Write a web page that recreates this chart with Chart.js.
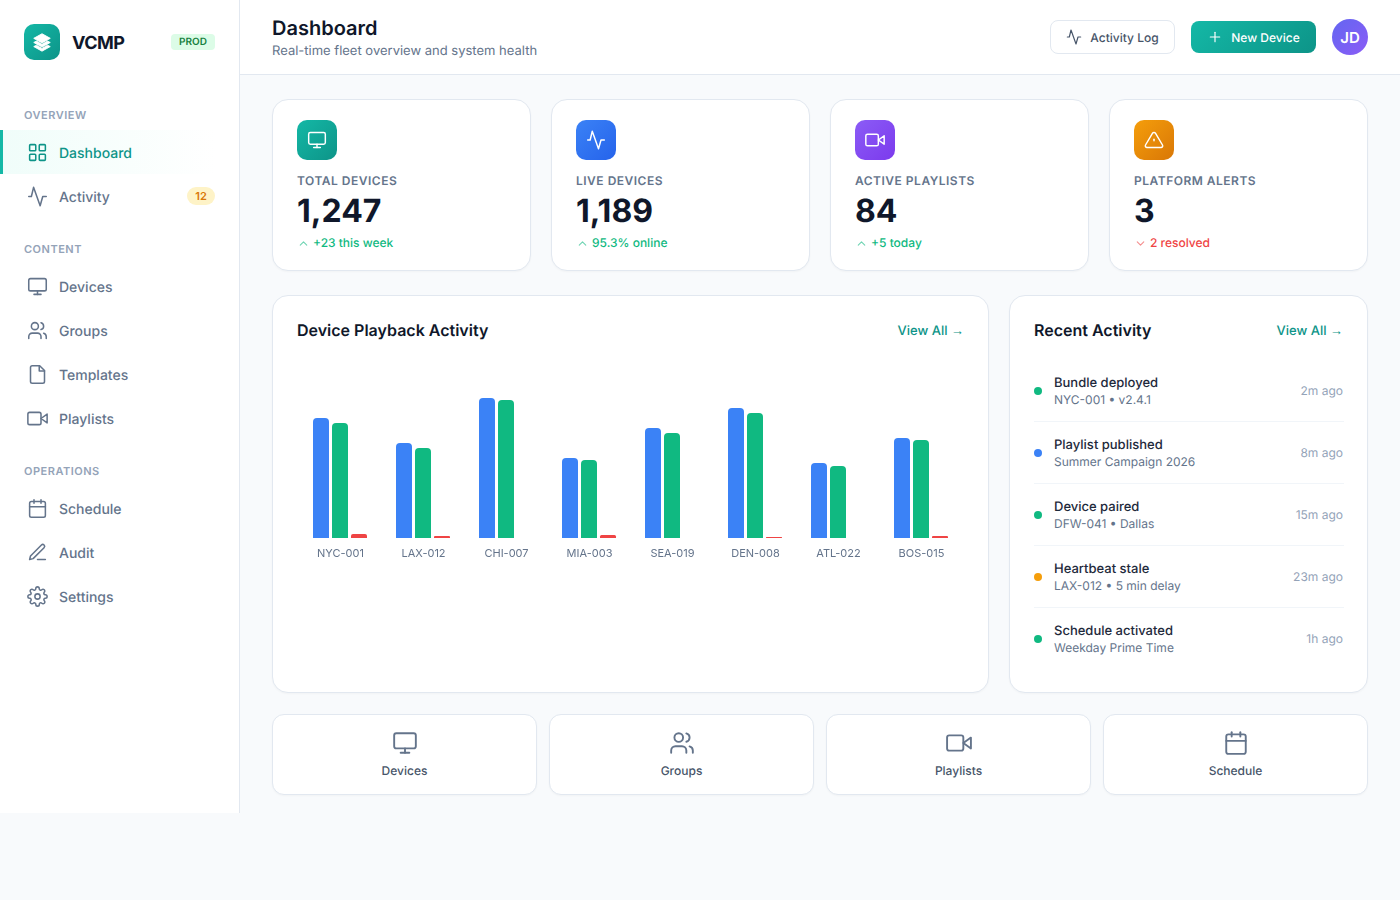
<!DOCTYPE html>
<html lang="en">

<head>
    <meta charset="UTF-8">
    <title>VCMP Dashboard</title>
    <script src="https://cdn.jsdelivr.net/npm/chart.js"></script>
    <style>
        * { box-sizing: border-box; margin: 0; padding: 0; }

        body {
            width: 1400px;
            height: 900px;
            overflow: hidden;
            position: relative;
            background: #f8fafc;
            font-family: Inter, sans-serif;
            color: #0f172a;
            text-rendering: geometricPrecision;
        }

        svg.ic {
            fill: none;
            stroke: currentColor;
            stroke-width: 1.75;
            stroke-linecap: round;
            stroke-linejoin: round;
            flex: none;
        }

        /* sidebar */
        .sidebar {
            position: absolute; left: 0; top: 0;
            width: 240px; height: 813px;
            background: #fff;
            border-right: 1px solid #e2e8f0;
        }
        .logo {
            position: absolute; left: 24px; top: 24px;
            width: 36px; height: 36px;
            border-radius: 10px;
            background: linear-gradient(135deg, #14b8a6, #0d9488);
            color: #fff;
            display: flex; align-items: center; justify-content: center;
        }
        .brand {
            position: absolute; left: 72px; top: 33px;
            font-size: 18px; line-height: 22px; font-weight: 700;
            letter-spacing: -0.5px; color: #0f172a;
        }
        .prod {
            position: absolute; left: 171px; top: 34px;
            width: 44px; height: 16px;
            border-radius: 4px;
            background: #dcfce7; color: #15803d;
            font-size: 10px; line-height: 17px; font-weight: 600;
            text-align: center;
        }
        .section {
            position: absolute; left: 24px;
            font-size: 11px; line-height: 14px; font-weight: 600;
            letter-spacing: 0.5px; color: #94a3b8;
        }
        .nav {
            position: absolute; left: 0; width: 216px; height: 44px;
            display: flex; align-items: center;
            padding-left: 26.5px;
            color: #64748b;
            font-size: 14px; font-weight: 500;
        }
        .nav span.t { margin-left: 11.5px; position: relative; top: 1px; }
        .nav.active {
            color: #0d9488;
            background: linear-gradient(90deg, #f0fdfa, rgba(240, 253, 250, 0));
            border-left: 3px solid #14b8a6;
            padding-left: 23.5px;
        }
        .count {
            position: absolute; left: 187px; top: 13px;
            width: 28px; height: 18px;
            border-radius: 9px;
            background: #fef3c7; color: #d97706;
            font-size: 11px; line-height: 18px; font-weight: 600;
            text-align: center;
        }

        /* header */
        .header {
            position: absolute; left: 240px; top: 0;
            width: 1160px; height: 75px;
            background: #fff;
            border-bottom: 1px solid #e2e8f0;
        }
        .header h1 {
            position: absolute; left: 32px; top: 15px;
            font-size: 20px; line-height: 26px; font-weight: 600;
            color: #0f172a;
        }
        .header p {
            position: absolute; left: 32px; top: 43px;
            font-size: 13px; line-height: 17px; color: #64748b;
        }
        .btn {
            position: absolute;
            display: flex; align-items: center; justify-content: center;
            font-size: 12px; font-weight: 500;
            border-radius: 8px;
        }
        .btn.log {
            left: 810px; top: 20px; width: 125px; height: 34px;
            background: #fff; border: 1px solid #e2e8f0; color: #475569;
        }
        .btn.new {
            left: 951px; top: 21px; width: 125px; height: 32px;
            background: linear-gradient(135deg, #14b8a6, #0d9488); color: #fff;
        }
        .btn svg { margin-right: 8px; }
        .avatar {
            position: absolute; left: 1092px; top: 19px;
            width: 36px; height: 36px; border-radius: 50%;
            background: linear-gradient(135deg, #6366f1, #8b5cf6);
            color: #fff; font-size: 15px; font-weight: 600;
            line-height: 38px; text-align: center;
        }

        /* cards */
        .card {
            position: absolute;
            background: #fff;
            border: 1px solid #e2e8f0;
            border-radius: 16px;
            box-shadow: 0 1px 2px rgba(15, 23, 42, 0.03);
        }
        .stat { top: 99px; width: 259px; height: 172px; }
        .stat .icon {
            position: absolute; left: 24px; top: 20px;
            width: 40px; height: 40px; border-radius: 10px;
            color: #fff;
            display: flex; align-items: center; justify-content: center;
        }
        .stat .label {
            position: absolute; left: 24px; top: 73px;
            font-size: 12px; line-height: 16px; font-weight: 600;
            letter-spacing: 0.5px; color: #64748b;
        }
        .stat .value {
            position: absolute; left: 24px; top: 89px;
            font-size: 32px; line-height: 44px; font-weight: 700;
            color: #0f172a;
        }
        .stat .delta {
            position: absolute; left: 23.5px; top: 135px;
            display: flex; align-items: center;
            font-size: 12px; line-height: 16px; font-weight: 500;
        }
        .stat .delta svg { margin-right: 3.5px; opacity: 0.6; stroke-width: 2; }
        .up { color: #10b981; }
        .down { color: #ef4444; }

        .panel-title {
            position: absolute; left: 24px; top: 23px;
            font-size: 16px; line-height: 22px; font-weight: 600; color: #0f172a;
        }
        .view-all {
            position: absolute; right: 24px; top: 26px;
            font-size: 13px; line-height: 18px; font-weight: 500; color: #0d9488;
        }
        .view-all span { font-family: "Liberation Sans", sans-serif; font-weight: 400; }
        .chart-wrap {
            position: absolute; left: 25px; top: 65px;
            width: 665px; height: 310px;
        }

        .row {
            position: absolute; left: 24px; width: 310px; height: 62px;
            border-bottom: 1px solid #f1f5f9;
        }
        .row:last-child { border-bottom: none; }
        .row .dot {
            position: absolute; left: 0; top: 27px;
            width: 8px; height: 8px; border-radius: 50%;
        }
        .row .title {
            position: absolute; left: 20px; top: 14px;
            font-size: 13px; line-height: 18px; font-weight: 500; color: #1e293b;
        }
        .row .sub {
            position: absolute; left: 20px; top: 32px;
            font-size: 12px; line-height: 16px; color: #64748b;
        }
        .row .time {
            position: absolute; right: 1px; top: 23px;
            font-size: 12px; line-height: 16px; color: #94a3b8;
        }

        .quick {
            top: 714px; width: 265px; height: 81px;
            border-radius: 12px;
            color: #64748b;
        }
        .quick svg { position: absolute; left: 119px; top: 15px; }
        .quick div {
            position: absolute; left: 0; right: 0; top: 48px;
            text-align: center;
            font-size: 12px; line-height: 16px; font-weight: 500; color: #475569;
        }
    </style>
</head>

<body>
    <svg width="0" height="0" style="position:absolute">
        <symbol id="i-grid" viewBox="0 0 24 24"><rect x="3" y="3" width="7" height="7" rx="1"/><rect x="14" y="3" width="7" height="7" rx="1"/><rect x="14" y="14" width="7" height="7" rx="1"/><rect x="3" y="14" width="7" height="7" rx="1"/></symbol>
        <symbol id="i-activity" viewBox="0 0 24 24"><polyline points="2 12 5 12 7.5 1.5 15 22.5 18 12 22 12"/></symbol>
        <symbol id="i-monitor" viewBox="0 0 24 24"><rect x="2" y="3" width="20" height="14" rx="2"/><line x1="8" y1="21" x2="16" y2="21"/><line x1="12" y1="17" x2="12" y2="21"/></symbol>
        <symbol id="i-users" viewBox="0 0 24 24"><path d="M16 21v-2a4 4 0 0 0-4-4H6a4 4 0 0 0-4 4v2"/><circle cx="9" cy="7" r="4"/><path d="M22 21v-2a4 4 0 0 0-3-3.87"/><path d="M16 3.13a4 4 0 0 1 0 7.75"/></symbol>
        <symbol id="i-file" viewBox="0 0 24 24"><path d="M14.5 2H6a2 2 0 0 0-2 2v16a2 2 0 0 0 2 2h12a2 2 0 0 0 2-2V7.5L14.5 2z"/><polyline points="14 2 14 8 20 8"/></symbol>
        <symbol id="i-video" viewBox="0 0 24 24"><polygon points="23 7 16 12 23 17 23 7"/><rect x="1" y="5" width="15" height="14" rx="2"/></symbol>
        <symbol id="i-calendar" viewBox="0 0 24 24"><rect x="3" y="4" width="18" height="18" rx="2"/><line x1="16" y1="2" x2="16" y2="6"/><line x1="8" y1="2" x2="8" y2="6"/><line x1="3" y1="10" x2="21" y2="10"/></symbol>
        <symbol id="i-pen" viewBox="0 0 24 24"><path d="M12 20h9"/><path d="M16.5 3.5a2.12 2.12 0 0 1 3 3L7 19l-4 1 1-4Z"/></symbol>
        <symbol id="i-gear" viewBox="0 0 24 24"><circle cx="12" cy="12" r="3"/><path d="M19.4 15a1.65 1.65 0 0 0 .33 1.82l.06.06a2 2 0 0 1 0 2.83 2 2 0 0 1-2.83 0l-.06-.06a1.65 1.65 0 0 0-1.82-.33 1.65 1.65 0 0 0-1 1.51V21a2 2 0 0 1-2 2 2 2 0 0 1-2-2v-.09A1.65 1.65 0 0 0 9 19.4a1.65 1.65 0 0 0-1.82.33l-.06.06a2 2 0 0 1-2.83 0 2 2 0 0 1 0-2.83l.06-.06a1.65 1.65 0 0 0 .33-1.82 1.65 1.65 0 0 0-1.51-1H3a2 2 0 0 1-2-2 2 2 0 0 1 2-2h.09A1.65 1.65 0 0 0 4.6 9a1.65 1.65 0 0 0-.33-1.82l-.06-.06a2 2 0 0 1 0-2.83 2 2 0 0 1 2.83 0l.06.06a1.65 1.65 0 0 0 1.82.33H9a1.65 1.65 0 0 0 1-1.51V3a2 2 0 0 1 2-2 2 2 0 0 1 2 2v.09a1.65 1.65 0 0 0 1 1.51 1.65 1.65 0 0 0 1.82-.33l.06-.06a2 2 0 0 1 2.83 0 2 2 0 0 1 0 2.83l-.06.06a1.65 1.65 0 0 0-.33 1.82V9a1.65 1.65 0 0 0 1.51 1H21a2 2 0 0 1 2 2 2 2 0 0 1-2 2h-.09a1.65 1.65 0 0 0-1.51 1z"/></symbol>
        <symbol id="i-alert" viewBox="0 0 24 24"><path d="M10.29 3.86L1.82 18a2 2 0 0 0 1.71 3h16.94a2 2 0 0 0 1.71-3L13.71 3.86a2 2 0 0 0-3.42 0z"/><line x1="12" y1="11" x2="12" y2="13"/></symbol>
        <symbol id="i-plus" viewBox="0 0 24 24"><line x1="12" y1="5" x2="12" y2="19"/><line x1="5" y1="12" x2="19" y2="12"/></symbol>
        <symbol id="i-up" viewBox="0 0 24 24"><polyline points="18 15 12 9 6 15"/></symbol>
        <symbol id="i-down" viewBox="0 0 24 24"><polyline points="6 9 12 15 18 9"/></symbol>
    </svg>

    <aside class="sidebar">
        <div class="logo">
            <svg width="22" height="22" viewBox="0 0 24 24" fill="#fff" stroke="#fff" stroke-width="1" stroke-linejoin="round">
                <polygon points="12 3 3 8 12 13 21 8"/>
                <polygon points="3 12.5 6 11 12 14.5 18 11 21 12.5 12 17.5"/>
                <polygon points="3 17 6 15.5 12 19 18 15.5 21 17 12 22"/>
            </svg>
        </div>
        <div class="brand">VCMP</div>
        <div class="prod">PROD</div>

        <div class="section" style="top:108px">OVERVIEW</div>
        <div class="nav active" style="top:130px"><svg class="ic" width="21" height="21"><use href="#i-grid"/></svg><span class="t">Dashboard</span></div>
        <div class="nav" style="top:174px"><svg class="ic" width="21" height="21"><use href="#i-activity"/></svg><span class="t">Activity</span><span class="count">12</span></div>

        <div class="section" style="top:242px">CONTENT</div>
        <div class="nav" style="top:264px"><svg class="ic" width="21" height="21"><use href="#i-monitor"/></svg><span class="t">Devices</span></div>
        <div class="nav" style="top:308px"><svg class="ic" width="21" height="21"><use href="#i-users"/></svg><span class="t">Groups</span></div>
        <div class="nav" style="top:352px"><svg class="ic" width="21" height="21"><use href="#i-file"/></svg><span class="t">Templates</span></div>
        <div class="nav" style="top:396px"><svg class="ic" width="21" height="21"><use href="#i-video"/></svg><span class="t">Playlists</span></div>

        <div class="section" style="top:464px">OPERATIONS</div>
        <div class="nav" style="top:486px"><svg class="ic" width="21" height="21"><use href="#i-calendar"/></svg><span class="t">Schedule</span></div>
        <div class="nav" style="top:530px"><svg class="ic" width="21" height="21"><use href="#i-pen"/></svg><span class="t">Audit</span></div>
        <div class="nav" style="top:574px"><svg class="ic" width="21" height="21"><use href="#i-gear"/></svg><span class="t">Settings</span></div>
    </aside>

    <header class="header">
        <h1>Dashboard</h1>
        <p>Real-time fleet overview and system health</p>
        <div class="btn log"><svg class="ic" width="16" height="16"><use href="#i-activity"/></svg>Activity Log</div>
        <div class="btn new"><svg class="ic" width="16" height="16"><use href="#i-plus"/></svg>New Device</div>
        <div class="avatar">JD</div>
    </header>

    <div class="card stat" style="left:272px">
        <div class="icon" style="background:linear-gradient(135deg,#14b8a6,#0d9488)"><svg class="ic" width="20" height="20"><use href="#i-monitor"/></svg></div>
        <div class="label">TOTAL DEVICES</div>
        <div class="value">1,247</div>
        <div class="delta up"><svg class="ic" width="13" height="13"><use href="#i-up"/></svg>+23 this week</div>
    </div>
    <div class="card stat" style="left:551px">
        <div class="icon" style="background:linear-gradient(135deg,#3b82f6,#2563eb)"><svg class="ic" width="20" height="20"><use href="#i-activity"/></svg></div>
        <div class="label">LIVE DEVICES</div>
        <div class="value">1,189</div>
        <div class="delta up"><svg class="ic" width="13" height="13"><use href="#i-up"/></svg>95.3% online</div>
    </div>
    <div class="card stat" style="left:830px">
        <div class="icon" style="background:linear-gradient(135deg,#8b5cf6,#7c3aed)"><svg class="ic" width="20" height="20"><use href="#i-video"/></svg></div>
        <div class="label">ACTIVE PLAYLISTS</div>
        <div class="value">84</div>
        <div class="delta up"><svg class="ic" width="13" height="13"><use href="#i-up"/></svg>+5 today</div>
    </div>
    <div class="card stat" style="left:1109px">
        <div class="icon" style="background:linear-gradient(135deg,#f59e0b,#d97706)"><svg class="ic" width="20" height="20"><use href="#i-alert"/></svg></div>
        <div class="label">PLATFORM ALERTS</div>
        <div class="value">3</div>
        <div class="delta down"><svg class="ic" width="13" height="13"><use href="#i-down"/></svg>2 resolved</div>
    </div>

    <div class="card" style="left:272px;top:295px;width:717px;height:398px">
        <div class="panel-title">Device Playback Activity</div>
        <div class="view-all">View All <span>→</span></div>
        <div class="chart-wrap"><canvas id="playbackChart"></canvas></div>
    </div>

    <div class="card" style="left:1009px;top:295px;width:359px;height:398px">
        <div class="panel-title">Recent Activity</div>
        <div class="view-all">View All <span>→</span></div>
        <div class="row" style="top:64px"><div class="dot" style="background:#10b981"></div><div class="title">Bundle deployed</div><div class="sub">NYC-001 • v2.4.1</div><div class="time">2m ago</div></div>
        <div class="row" style="top:126px"><div class="dot" style="background:#3b82f6"></div><div class="title">Playlist published</div><div class="sub">Summer Campaign 2026</div><div class="time">8m ago</div></div>
        <div class="row" style="top:188px"><div class="dot" style="background:#10b981"></div><div class="title">Device paired</div><div class="sub">DFW-041 • Dallas</div><div class="time">15m ago</div></div>
        <div class="row" style="top:250px"><div class="dot" style="background:#f59e0b"></div><div class="title">Heartbeat stale</div><div class="sub">LAX-012 • 5 min delay</div><div class="time">23m ago</div></div>
        <div class="row" style="top:312px"><div class="dot" style="background:#10b981"></div><div class="title">Schedule activated</div><div class="sub">Weekday Prime Time</div><div class="time">1h ago</div></div>
    </div>

    <div class="card quick" style="left:272px"><svg class="ic" width="26" height="26"><use href="#i-monitor"/></svg><div>Devices</div></div>
    <div class="card quick" style="left:549px"><svg class="ic" width="26" height="26"><use href="#i-users"/></svg><div>Groups</div></div>
    <div class="card quick" style="left:826px"><svg class="ic" width="26" height="26"><use href="#i-video"/></svg><div>Playlists</div></div>
    <div class="card quick" style="left:1103px"><svg class="ic" width="26" height="26"><use href="#i-calendar"/></svg><div>Schedule</div></div>

    <script>
        const deviceLabels = ['NYC-001', 'LAX-012', 'CHI-007', 'MIA-003', 'SEA-019', 'DEN-008', 'ATL-022', 'BOS-015'];
        const scheduledPlays = [120, 95, 140, 80, 110, 130, 75, 100];
        const completedPlays = [115, 90, 138, 78, 105, 125, 72, 98];
        const failedPlays = [4, 2, 0, 3, 0, 1, 0, 2];

        const barStyle = {
            borderRadius: { topLeft: 4, topRight: 4 },
            borderSkipped: 'bottom',
            categoryPercentage: 57 / 83, // 19px slot per bar
            barPercentage: 16 / 19 // 16px bar, 3px gap
        };

        new Chart(document.getElementById('playbackChart'), {
            type: 'bar',
            data: {
                labels: deviceLabels,
                datasets: [
                    { label: 'Scheduled', data: scheduledPlays, backgroundColor: '#3b82f6', ...barStyle },
                    { label: 'Completed', data: completedPlays, backgroundColor: '#10b981', ...barStyle },
                    { label: 'Failed', data: failedPlays, backgroundColor: '#ef4444', ...barStyle }
                ]
            },
            options: {
                responsive: true,
                maintainAspectRatio: false,
                animation: false,
                layout: { padding: { left: 0.5, right: 0.5 } },
                plugins: { legend: { display: false }, tooltip: { enabled: false } },
                scales: {
                    x: {
                        grid: { display: false, drawTicks: false },
                        border: { display: false },
                        ticks: {
                            color: '#64748b',
                            font: { family: 'Inter', size: 11 },
                            padding: 9,
                            labelOffset: 0.5,
                            maxRotation: 0,
                            autoSkip: false
                        },
                        afterFit: scale => { scale.height = 133; } // room under the bars, as in the card
                    },
                    y: {
                        display: false,
                        min: 0,
                        max: 177
                    }
                }
            }
        });
    </script>
</body>

</html>
